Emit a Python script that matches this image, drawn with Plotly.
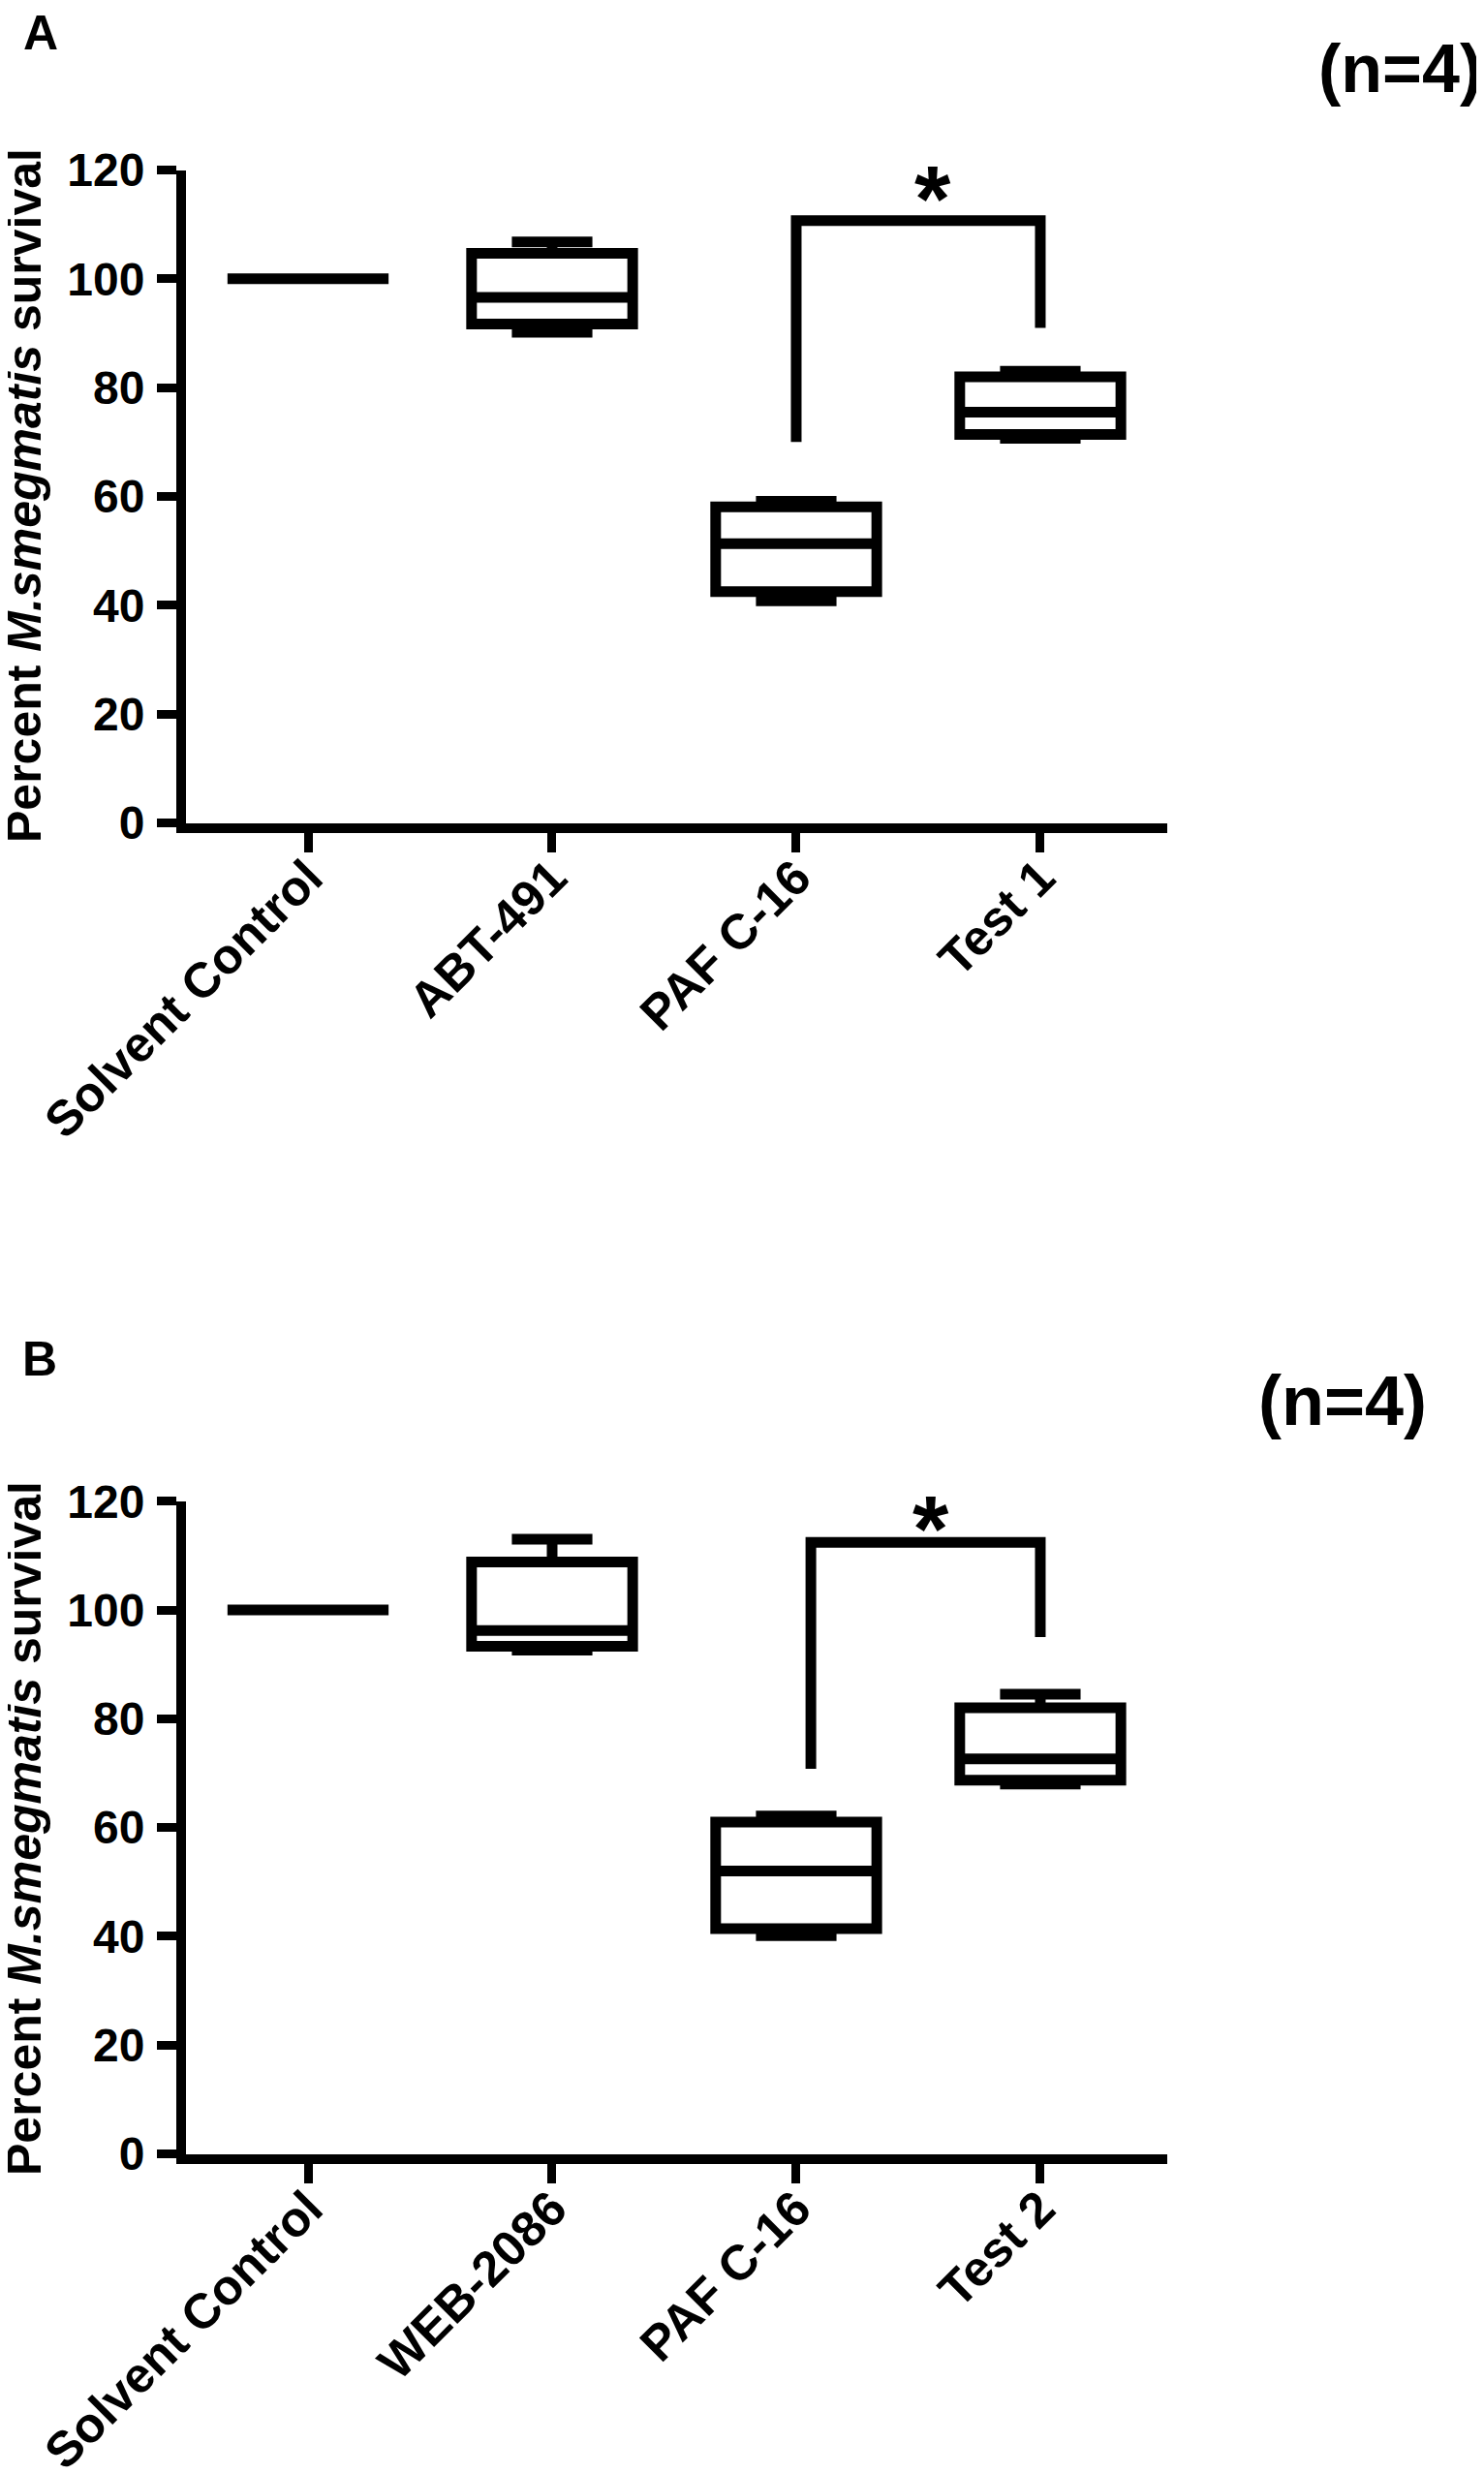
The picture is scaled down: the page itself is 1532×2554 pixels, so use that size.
import plotly.graph_objects as go

# panel A
categories_a = ["Solvent Control", "ABT-491", "PAF C-16", "Test 1"]
low_a = [100, 90.2, 40.8, 70.7]
q1_a = [100, 91.7, 42.5, 71.4]
med_a = [100, 96.6, 51.3, 75.5]
q3_a = [100, 104.7, 58.1, 82.0]
high_a = [100, 106.8, 59.1, 83.0]
bracket_a_x = [2, 2, 3, 3]
bracket_a_y = [70.0, 110.7, 110.7, 91.0]
star_a = [2.56, 117.0]

# panel B
categories_b = ["Solvent Control", "WEB-2086", "PAF C-16", "Test 2"]
low_b = [100, 92.6, 40.1, 68.0]
q1_b = [100, 93.3, 41.4, 68.7]
med_b = [100, 96.2, 52.0, 72.6]
q3_b = [100, 108.8, 61.0, 82.0]
high_b = [100, 113.0, 62.1, 84.5]
bracket_b_x = [2.06, 2.06, 3, 3]
bracket_b_y = [70.8, 112.4, 112.4, 95.0]
star_b = [2.55, 117.1]

y_ticks = [0, 20, 40, 60, 80, 100, 120]
positions = [0, 1, 2, 3]

W, H = 1532, 2554
FONT = "Liberation Sans, Arial, sans-serif"
LW = 11

fig = go.Figure()

fig.add_trace(go.Box(x=positions, q1=q1_a, median=med_a, q3=q3_a,
                     lowerfence=low_a, upperfence=high_a, width=0.66,
                     whiskerwidth=0.5, boxpoints=False, fillcolor="rgba(0,0,0,0)",
                     line=dict(color="black", width=LW), xaxis="x", yaxis="y",
                     showlegend=False, hoverinfo="skip"))
fig.add_trace(go.Scatter(x=bracket_a_x, y=bracket_a_y, mode="lines",
                         line=dict(color="black", width=LW), xaxis="x", yaxis="y",
                         showlegend=False, hoverinfo="skip"))

fig.add_trace(go.Box(x=positions, q1=q1_b, median=med_b, q3=q3_b,
                     lowerfence=low_b, upperfence=high_b, width=0.66,
                     whiskerwidth=0.5, boxpoints=False, fillcolor="rgba(0,0,0,0)",
                     line=dict(color="black", width=LW), xaxis="x2", yaxis="y2",
                     showlegend=False, hoverinfo="skip"))
fig.add_trace(go.Scatter(x=bracket_b_x, y=bracket_b_y, mode="lines",
                         line=dict(color="black", width=LW), xaxis="x2", yaxis="y2",
                         showlegend=False, hoverinfo="skip"))

x_dom = [184 / W, 1197 / W]


def xax(cats, anchor):
    return dict(domain=x_dom, range=[-0.5, 3.52], anchor=anchor, automargin=False,
                tickmode="array", tickvals=positions, ticktext=cats,
                tickangle=-45, ticks="outside", ticklen=20, tickwidth=9,
                tickcolor="black", showline=True, linecolor="black", linewidth=10,
                showgrid=False, zeroline=False, ticklabelstandoff=-24,
                tickfont=dict(family=FONT, size=51, color="black", weight="bold"))


def yax(dom, anchor):
    return dict(domain=dom, range=[0, 120], anchor=anchor, automargin=False,
                tickmode="array", tickvals=y_ticks, ticks="outside", ticklen=20,
                tickwidth=9, tickcolor="black", showline=True, linecolor="black",
                linewidth=10, showgrid=False, zeroline=False, ticklabelstandoff=3,
                tickfont=dict(family=FONT, size=48, color="black", weight="bold"))


ann = []
title = "<b>Percent <i>M.smegmatis</i> survival</b>"
for cy in [504, 1880]:
    ann.append(dict(text=title, textangle=-90, xref="paper", yref="paper",
                    x=17 / W, y=1 - cy / H, xanchor="center", yanchor="middle",
                    showarrow=False, font=dict(family=FONT, size=50, color="black")))
ann.append(dict(text="<b>A</b>", xref="paper", yref="paper", x=14 / W, y=1 - 26 / H,
                xanchor="left", yanchor="middle", showarrow=False,
                font=dict(family=FONT, size=50, color="black")))
ann.append(dict(text="<b>B</b>", xref="paper", yref="paper", x=13 / W, y=1 - 1395 / H,
                xanchor="left", yanchor="middle", showarrow=False,
                font=dict(family=FONT, size=50, color="black")))
ann.append(dict(text="<b>(n=4)</b>", xref="paper", yref="paper", x=1524 / W, y=1 - 63 / H,
                xanchor="right", yanchor="middle", showarrow=False,
                font=dict(family=FONT, size=70, color="black")))
ann.append(dict(text="<b>(n=4)</b>", xref="paper", yref="paper", x=1467 / W, y=1 - 1438 / H,
                xanchor="right", yanchor="middle", showarrow=False,
                font=dict(family=FONT, size=72, color="black")))
ann.append(dict(text="<b>*</b>", xref="x", yref="y", x=star_a[0], y=star_a[1],
                xanchor="center", yanchor="middle", showarrow=False, yshift=-12,
                font=dict(family=FONT, size=96, color="black")))
ann.append(dict(text="<b>*</b>", xref="x2", yref="y2", x=star_b[0], y=star_b[1],
                xanchor="center", yanchor="middle", showarrow=False, yshift=-12,
                font=dict(family=FONT, size=96, color="black")))

fig.update_layout(
    width=W, height=H,
    margin=dict(l=0, r=0, t=0, b=0, autoexpand=False),
    paper_bgcolor="white", plot_bgcolor="white",
    xaxis=xax(categories_a, "y"),
    yaxis=yax([1 - 841.5 / H, 1 - 167.5 / H], "x"),
    xaxis2=xax(categories_b, "y2"),
    yaxis2=yax([1 - 2215.5 / H, 1 - 1541.7 / H], "x2"),
    annotations=ann,
    font=dict(family=FONT, color="black"),
)

fig.write_html("out.html")
